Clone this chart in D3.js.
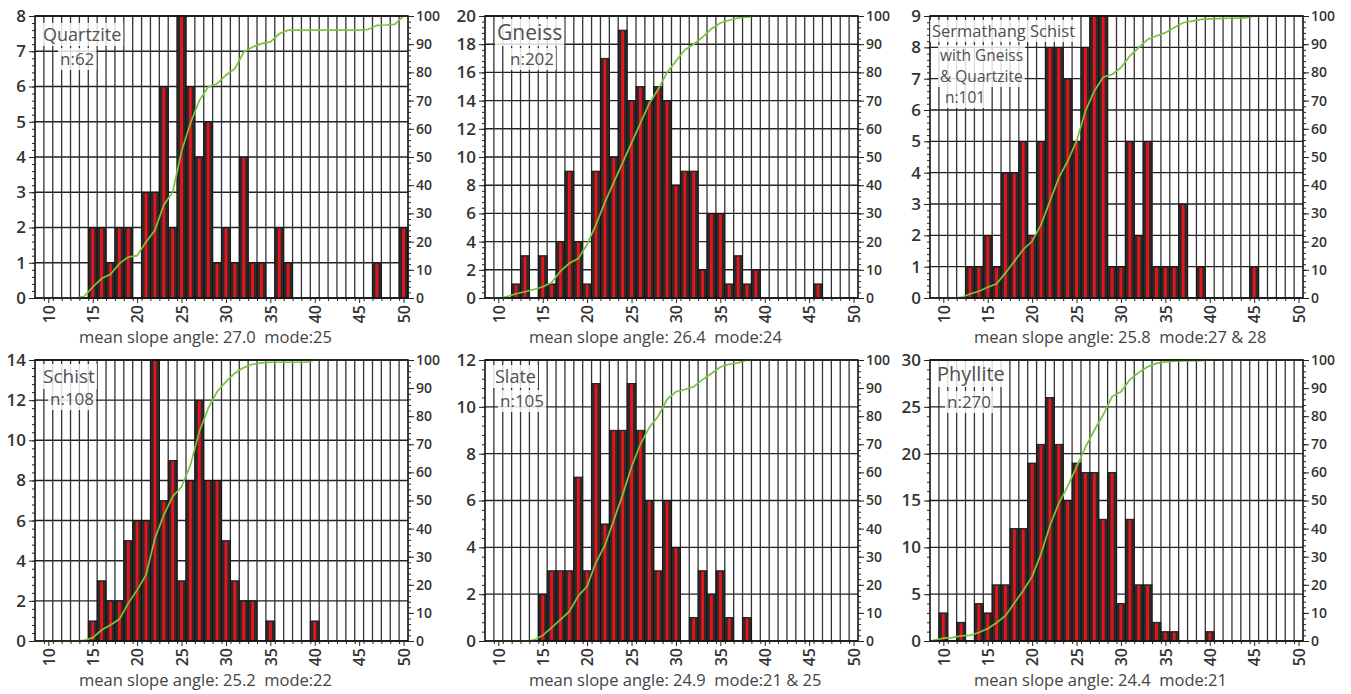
<!DOCTYPE html>
<html>
<head>
<meta charset="utf-8">
<script src="https://cdn.jsdelivr.net/npm/d3@7"></script>
<style>
  body { margin: 0; background: #fff; }
  text { font-family: 'Open Sans', 'Noto Sans', sans-serif; }
</style>
</head>
<body>
<svg id="chart" width="1351" height="694"></svg>
<script>
// slope angle bins (degrees), one bar per degree
const angles = [10, 11, 12, 13, 14, 15, 16, 17, 18, 19, 20, 21, 22, 23, 24, 25, 26, 27, 28, 29,
                30, 31, 32, 33, 34, 35, 36, 37, 38, 39, 40, 41, 42, 43, 44, 45, 46, 47, 48, 49, 50];
const xTickLabels = [10, 15, 20, 25, 30, 35, 40, 45, 50];
const pctTicks = [0, 10, 20, 30, 40, 50, 60, 70, 80, 90, 100];

// counts per bin, 10..50
const quartziteCounts = [0,0,0,0,0, 2,2,1,2,2, 0,3,3,6,2, 8,6,4,5,1, 2,1,4,1,1, 0,2,1,0,0, 0,0,0,0,0, 0,0,1,0,0, 2];
const gneissCounts    = [0,0,1,3,0, 3,1,4,9,4, 1,9,17,10,19, 14,15,14,15,14, 8,9,9,2,6, 6,1,3,1,2, 0,0,0,0,0, 0,1,0,0,0, 0];
const sermathangCounts= [0,0,0,1,1, 2,1,4,4,5, 2,5,8,8,7, 5,8,9,9,1, 1,5,2,5,1, 1,1,3,0,1, 0,0,0,0,0, 1,0,0,0,0, 0];
const schistCounts    = [0,0,0,0,0, 1,3,2,2,5, 6,6,14,7,9, 3,8,12,8,8, 5,3,2,2,0, 1,0,0,0,0, 1,0,0,0,0, 0,0,0,0,0, 0];
const slateCounts     = [0,0,0,0,0, 2,3,3,3,7, 3,11,5,9,9, 11,9,6,3,6, 4,0,1,3,2, 3,1,0,1,0, 0,0,0,0,0, 0,0,0,0,0, 0];
const phylliteCounts  = [3,0,2,0,4, 3,6,6,12,12, 19,21,26,21,15, 19,18,18,13,18, 4,13,6,6,2, 1,1,0,0,0, 1,0,0,0,0, 0,0,0,0,0, 0];

// cumulative percentage (green line), 10..50
const quartziteCum = [0,0,0,0,0.5, 3.9,6.9,8.4,12.2,14.5, 15,19.9,24,33,37.5, 52,62,70,74.8,76,
                      79,81.3,87.2,89,90.2, 90.8,93.7,95,95,95, 95,95,95,95,95, 95,95.2,96.7,96.8,97, 100];
const gneissCum    = [0,0.5,1.5,2.2,3, 4,5.5,9.5,12.3,14, 19,26,34,41,48, 55,62,69,74,80,
                      84,88,90,92.5,95.5, 97.5,98.5,99.3,99.7,100, 100,100,100,100,100, 100,100,100,100,100, 100];
const sermathangCum= [0,0,0.2,1.4,2.4, 3.8,5,8.9,13,17.2, 20.1,26,34.3,42.6,48.5, 55.6,66.3,73.4,78.3,79.3,
                      81.7,85.8,88.8,91.7,92.9, 94.1,95.9,97.6,98.2,98.8, 99,99.1,99.2,99.2,99.3, 100,100,100,100,100, 100];
const schistCum    = [0,0,0,0,0.2, 1.2,3.9,5.7,7.8,13.4, 18.1,23.5,36.5,44.8,51.4, 54.9,62.6,74.5,82.8,88.7,
                      92.3,95.3,97.3,98.5,99, 99.2,99.2,99.2,99.2,99.2, 100,100,100,100,100, 100,100,100,100,100, 100];
const slateCum     = [0,0,0,0,0.3, 2,4.8,7.6,10.5,16, 19.5,28,34,43,52, 62,70,76,80,86,
                      88.7,89.5,90.5,93,95.2, 97.5,98.5,99,100,100, 100,100,100,100,100, 100,100,100,100,100, 100];
const phylliteCum  = [1,1.2,1.8,2,3, 4.4,6.5,9,13.5,18, 23,31,41,49,55, 62,69,75,80.5,87,
                      88.7,93,95.5,97.6,98.8, 99.3,99.6,99.7,99.8,99.8, 100,100,100,100,100, 100,100,100,100,100, 100];

const yMaxes  = [8, 20, 9, 14, 12, 30];
const ySteps  = [1, 2, 1, 2, 2, 5];
const labelLines = [
  ['Quartzite', 'n:62'],
  ['Gneiss', 'n:202'],
  ['Sermathang Schist', 'with Gneiss', '& Quartzite', 'n:101'],
  ['Schist', 'n:108'],
  ['Slate', 'n:105'],
  ['Phyllite', 'n:270']
];
const captions = [
  'mean slope angle: 27.0  mode:25',
  'mean slope angle: 26.4  mode:24',
  'mean slope angle: 25.8  mode:27 & 28',
  'mean slope angle: 25.2  mode:22',
  'mean slope angle: 24.9  mode:21 & 25',
  'mean slope angle: 24.4  mode:21'
];

const panels = [
  { counts: quartziteCounts, cum: quartziteCum },
  { counts: gneissCounts, cum: gneissCum },
  { counts: sermathangCounts, cum: sermathangCum },
  { counts: schistCounts, cum: schistCum },
  { counts: slateCounts, cum: slateCum },
  { counts: phylliteCounts, cum: phylliteCum }
];

// layout
const W = 373;
const lefts = [35, 485, 930];
const tops = [16, 360];
const heights = [282, 281];
// label placement: [dx, baseline dy, font size] per line
const labelPos = [
  [[8, 25, 18], [25, 49, 17]],
  [[12, 24, 21], [25, 49, 17]],
  [[2, 21, 16.5], [10, 45, 15.5], [10, 66, 15.5], [15, 87, 15.5]],
  [[8, 23, 19], [15, 45, 17]],
  [[10, 23, 18], [15, 47, 17]],
  [[7, 21, 20], [17, 48, 17]]
];

const svg = d3.select('#chart');

panels.forEach((p, i) => {
  const left = lefts[i % 3];
  const top = tops[Math.floor(i / 3)];
  const h = heights[Math.floor(i / 3)];
  const yMax = yMaxes[i], yStep = ySteps[i];

  const x = d3.scaleLinear().domain([8.5, 50.5]).range([left, left + W]);
  const y = d3.scaleLinear().domain([0, yMax]).range([top + h, top]);
  const yPct = d3.scaleLinear().domain([0, 100]).range([top + h, top]);

  const g = svg.append('g');

  g.append('rect')
    .attr('x', left).attr('y', top).attr('width', W).attr('height', h)
    .attr('fill', '#fff');

  // grid
  const yTicks = d3.range(0, yMax + 0.001, yStep);
  g.selectAll('.hgrid').data(yTicks).enter().append('line')
    .attr('x1', left).attr('x2', left + W)
    .attr('y1', d => y(d)).attr('y2', d => y(d))
    .attr('stroke', '#222').attr('stroke-width', 1.4);

  const edges = d3.range(9.5, 50.5, 1);
  g.selectAll('.vgrid').data(edges).enter().append('line')
    .attr('x1', d => x(d)).attr('x2', d => x(d))
    .attr('y1', top).attr('y2', top + h)
    .attr('stroke', '#333').attr('stroke-width', 1.3);

  // bars: dark body with red centre stripe
  const bins = angles.map((a, j) => ({ a: a, c: p.counts[j] })).filter(d => d.c > 0);
  const bw = x(1) - x(0);
  g.selectAll('.bar').data(bins).enter().append('rect')
    .attr('x', d => x(d.a - 0.5))
    .attr('width', bw)
    .attr('y', d => y(d.c))
    .attr('height', d => y(0) - y(d.c))
    .attr('fill', '#302b2b')
    .attr('stroke', '#111')
    .attr('stroke-width', 0.8);
  g.selectAll('.barred').data(bins).enter().append('rect')
    .attr('x', d => x(d.a - 0.16))
    .attr('width', x(0.32) - x(0))
    .attr('y', d => y(d.c) + 1)
    .attr('height', d => Math.max(0, y(0) - y(d.c) - 1))
    .attr('fill', '#e8141b');

  // cumulative line
  const pts = [[8.5, 0]].concat(angles.map((a, j) => [a, p.cum[j]]));
  pts.push([50.5, p.cum[p.cum.length - 1]]);
  g.append('path')
    .datum(pts)
    .attr('fill', 'none')
    .attr('stroke', '#78c43e')
    .attr('stroke-width', 1.7)
    .attr('d', d3.line().x(d => x(d[0])).y(d => yPct(d[1])));

  // frame
  g.append('rect')
    .attr('x', left).attr('y', top).attr('width', W).attr('height', h)
    .attr('fill', 'none').attr('stroke', '#111').attr('stroke-width', 1.6);

  // axes
  const minorL = d3.range(0, yMax + 0.001, yStep / 5);
  g.append('g').attr('transform', `translate(${left},0)`)
    .call(d3.axisLeft(y).tickValues(minorL).tickSize(3).tickFormat(''))
    .call(a => a.select('.domain').remove());
  const axL = g.append('g').attr('transform', `translate(${left},0)`)
    .call(d3.axisLeft(y).tickValues(yTicks).tickSize(6).tickPadding(3).tickFormat(d3.format('d')));
  axL.select('.domain').remove();
  axL.selectAll('text').attr('font-size', 17).attr('font-weight', 600).attr('fill', '#333')
    .style('font-family', "'Open Sans', sans-serif");

  g.append('g').attr('transform', `translate(${left + W},0)`)
    .call(d3.axisRight(yPct).tickValues(d3.range(0, 101, 2)).tickSize(3).tickFormat(''))
    .call(a => a.select('.domain').remove());
  const axR = g.append('g').attr('transform', `translate(${left + W},0)`)
    .call(d3.axisRight(yPct).tickValues(pctTicks).tickSize(6).tickPadding(2));
  axR.select('.domain').remove();
  axR.selectAll('text').attr('font-size', 14).attr('font-weight', 600).attr('fill', '#333')
    .style('font-family', "'Open Sans', sans-serif");

  g.append('g').attr('transform', `translate(0,${top + h})`)
    .call(d3.axisBottom(x).tickValues(edges).tickSize(3).tickFormat(''))
    .call(a => a.select('.domain').remove());
  const axB = g.append('g').attr('transform', `translate(0,${top + h})`)
    .call(d3.axisBottom(x).tickValues(xTickLabels).tickSize(5));
  axB.select('.domain').remove();
  axB.selectAll('text')
    .attr('transform', 'rotate(-90)')
    .attr('text-anchor', 'end')
    .attr('x', -7).attr('y', 0).attr('dy', '0.36em')
    .attr('font-size', 16).attr('font-weight', 600).attr('fill', '#333')
    .style('font-family', "'Open Sans', sans-serif");
  g.selectAll('.tick line').attr('stroke', '#222');

  // panel label with light box behind
  const lg = g.append('g');
  labelLines[i].forEach((t, k) => {
    const pos = labelPos[i][k];
    const txt = lg.append('text')
      .attr('x', left + pos[0]).attr('y', top + pos[1])
      .attr('font-size', pos[2]).attr('fill', '#505050')
      .text(t);
    const bb = txt.node().getBBox();
    lg.insert('rect', 'text')
      .attr('x', bb.x - 2).attr('y', bb.y + 1)
      .attr('width', bb.width + 4).attr('height', bb.height - 1)
      .attr('fill', '#fff').attr('opacity', 0.82);
  });

  // caption
  g.append('text')
    .attr('x', left + 44)
    .attr('y', top + h + 45)
    .attr('font-size', 16.5)
    .attr('fill', '#444')
    .style('white-space', 'pre')
    .text(captions[i]);
});
</script>
</body>
</html>
